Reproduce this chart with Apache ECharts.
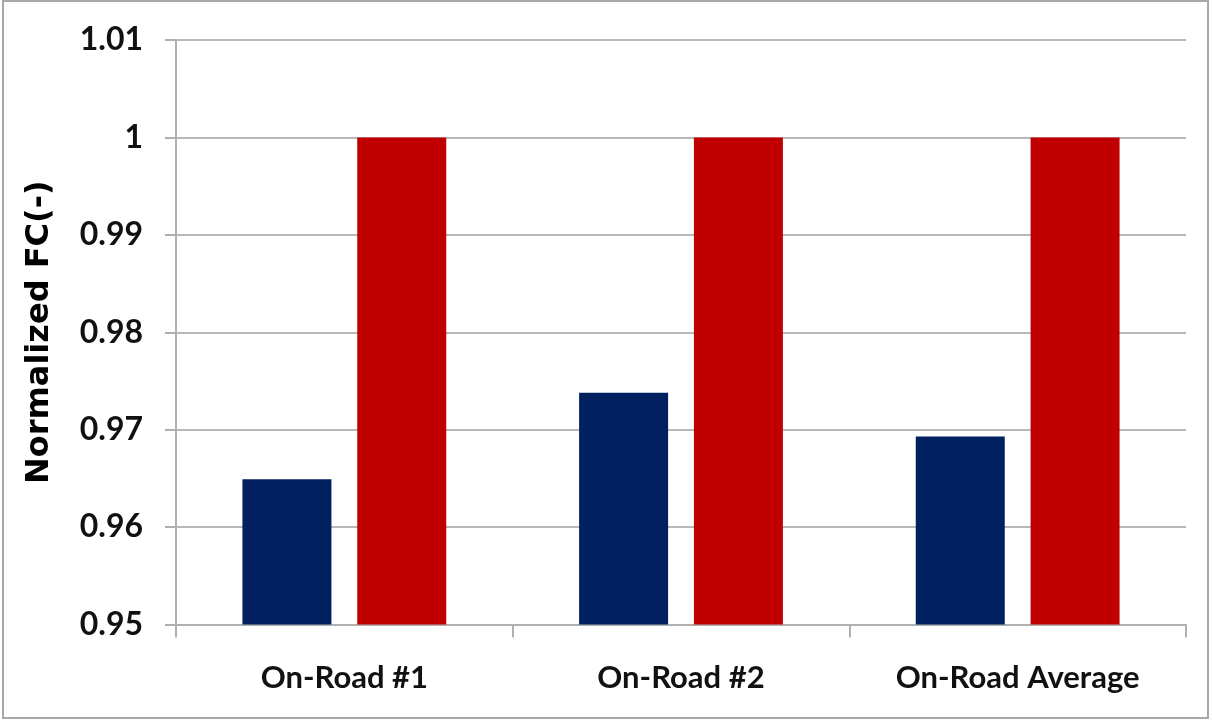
<!DOCTYPE html>
<html>
<head>
<meta charset="utf-8">
<script src="https://cdn.jsdelivr.net/npm/echarts@6/dist/echarts.min.js"></script>
<style>
  html, body { margin: 0; padding: 0; background: #fff; }
  #chart { width: 1212px; height: 720px; }
</style>
</head>
<body>
<div id="chart"></div>
<script>
// Normalized fuel consumption per on-road test
const categories = ['On-Road #1', 'On-Road #2', 'On-Road Average'];
const seriesA = [0.9649, 0.9738, 0.9693];   // navy bars
const seriesB = [1.0, 1.0, 1.0];            // red baseline bars
const yMin = 0.95, yMax = 1.01, yStep = 0.01;

const labelFont = 'Lato, "Open Sans", sans-serif';

const chart = echarts.init(document.getElementById('chart'));
chart.setOption({
  animation: false,
  backgroundColor: '#fff',
  graphic: [{
    type: 'rect',
    shape: { x: 3, y: 1, width: 1205, height: 717 },
    style: { fill: 'none', stroke: '#a8a8a8', lineWidth: 2 },
    silent: true
  }],
  grid: { left: 176, right: 26, top: 40, bottom: 95.5, containLabel: false },
  xAxis: {
    type: 'category',
    data: categories,
    axisLine: { show: true, lineStyle: { color: '#b0b0b0', width: 2 } },
    axisTick: { show: true, length: 13, lineStyle: { color: '#b0b0b0', width: 2 } },
    axisLabel: { interval: 0, color: '#111', fontFamily: labelFont, fontWeight: 'bold', fontSize: 31, margin: 38 }
  },
  yAxis: {
    type: 'value',
    min: yMin, max: yMax, interval: yStep,
    name: 'Normalized FC(-)',
    nameLocation: 'middle',
    nameGap: 120,
    nameRotate: 90,
    nameTextStyle: { color: '#000', fontFamily: '"DejaVu Sans", sans-serif', fontWeight: 'bold', fontSize: 32 },
    axisLine: { show: true, lineStyle: { color: '#b0b0b0', width: 2 } },
    axisTick: { show: true, length: 11, lineStyle: { color: '#b0b0b0', width: 2 } },
    axisLabel: {
      color: '#111', fontFamily: labelFont, fontWeight: 'bold', fontSize: 32, margin: 33,
      formatter: v => String(Math.round(v * 100) / 100)
    },
    splitLine: { show: true, lineStyle: { color: '#b8b8b8', width: 2 } }
  },
  series: [
    {
      type: 'bar', data: seriesA, barWidth: 89, barGap: '29%',
      itemStyle: { color: '#002060' }
    },
    {
      type: 'bar', data: seriesB, barWidth: 89,
      itemStyle: { color: '#c00000' }
    }
  ]
});
</script>
</body>
</html>
